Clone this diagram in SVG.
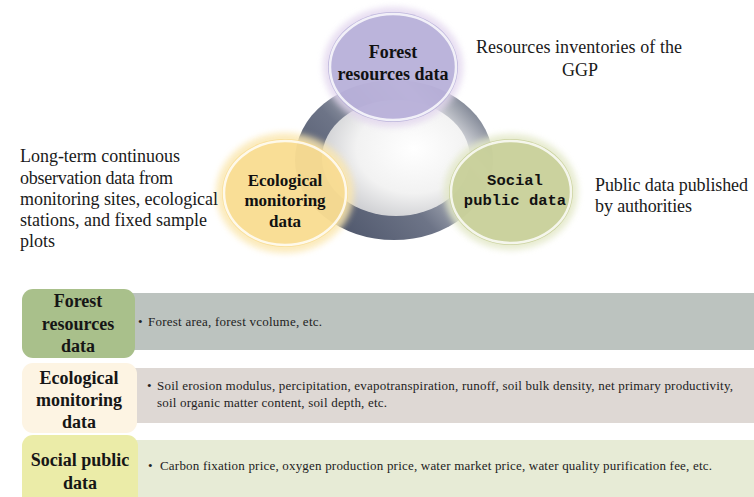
<svg xmlns="http://www.w3.org/2000/svg" width="754" height="497" viewBox="0 0 754 497">
  <style>
    .note { font-family: "Liberation Serif", "Times New Roman", serif; font-size: 18px; fill: #1a1a1a; }
    .hub { font-family: "Liberation Serif", "Times New Roman", serif; font-size: 18px; font-weight: bold; fill: #111; text-anchor: middle; }
    .hub2 { font-family: "Liberation Serif", "Times New Roman", serif; font-size: 17px; font-weight: bold; fill: #111; text-anchor: middle; }
    .hubmono { font-family: "Liberation Mono", "Courier New", monospace; font-size: 15.5px; font-weight: bold; fill: #111; text-anchor: middle; }
    .lbl { font-family: "Liberation Serif", "Times New Roman", serif; font-size: 18px; font-weight: bold; fill: #161616; text-anchor: middle; }
    .item { font-family: "Liberation Serif", "Times New Roman", serif; font-size: 13px; fill: #222; }
    .ringline { fill: none; stroke: #ffffff; stroke-width: 2.5; opacity: 0.8; }
  </style>
  <defs>
    <linearGradient id="ringGrad" x1="0.1" y1="0.8" x2="0.9" y2="0.2">
      <stop offset="0" stop-color="#4f576c"/>
      <stop offset="0.4" stop-color="#6d7487"/>
      <stop offset="0.65" stop-color="#b3b7c0"/>
      <stop offset="0.82" stop-color="#e2e3e6"/>
      <stop offset="1" stop-color="#858b99"/>
    </linearGradient>
    <radialGradient id="coreGrad" cx="0.62" cy="0.42" r="0.7">
      <stop offset="0" stop-color="#ffffff"/>
      <stop offset="0.55" stop-color="#f2f2f2"/>
      <stop offset="1" stop-color="#c4c5c9"/>
    </radialGradient>
    <filter id="soft" x="-20%" y="-20%" width="140%" height="140%">
      <feGaussianBlur stdDeviation="3"/>
    </filter>
  </defs>

  <!-- metallic ring behind the three data sources -->
  <g id="ring">
    <ellipse cx="394" cy="160" rx="99" ry="80" fill="url(#ringGrad)"/>
    <ellipse cx="396" cy="158" rx="74" ry="58" fill="url(#coreGrad)"/>
  </g>

  <g id="node-forest">
    <ellipse cx="393" cy="67" rx="70" ry="60" fill="#e2d6ee" opacity="0.8" filter="url(#soft)"/>
    <ellipse cx="393" cy="67" rx="65" ry="55" fill="#aba4d2" opacity="0.72"/>
    <ellipse cx="393" cy="67" rx="63" ry="53" class="ringline"/>
    <text class="hub" x="393" y="58">Forest</text>
    <text class="hub" x="393" y="80">resources data</text>
  </g>

  <g id="node-ecological">
    <ellipse cx="285" cy="193" rx="69" ry="60" fill="#fbe7b0" opacity="0.85" filter="url(#soft)"/>
    <ellipse cx="285" cy="193" rx="63" ry="54" fill="#f8d98a" opacity="0.75"/>
    <ellipse cx="285" cy="193" rx="61" ry="52" class="ringline"/>
    <text class="hub2" x="285" y="186">Ecological</text>
    <text class="hub2" x="285" y="206">monitoring</text>
    <text class="hub2" x="285" y="227">data</text>
  </g>

  <g id="node-social">
    <ellipse cx="511" cy="192" rx="67" ry="58" fill="#e3e8c8" opacity="0.85" filter="url(#soft)"/>
    <ellipse cx="511" cy="192" rx="62" ry="53" fill="#c3cb90" opacity="0.78"/>
    <ellipse cx="511" cy="192" rx="60" ry="51" class="ringline"/>
    <text class="hubmono" x="515" y="185">Social</text>
    <text class="hubmono" x="515" y="205">public data</text>
  </g>

  <!-- source descriptions -->
  <g id="notes">
    <text class="note" x="476" y="53" textLength="206">Resources inventories of the</text>
    <text class="note" x="580" y="76" text-anchor="middle">GGP</text>
    <text class="note" x="20" y="162" textLength="160">Long-term continuous</text>
    <text class="note" x="20" y="184" textLength="153">observation data from</text>
    <text class="note" x="20" y="205" textLength="198">monitoring sites, ecological</text>
    <text class="note" x="20" y="226" textLength="187">stations, and fixed sample</text>
    <text class="note" x="20" y="247">plots</text>
    <text class="note" x="595" y="191" textLength="153">Public data published</text>
    <text class="note" x="595" y="212" textLength="97">by authorities</text>
  </g>

  <g id="connectors"/>

  <!-- detail table -->
  <g id="row-forest">
    <rect x="130" y="293" width="624" height="57" fill="#bcc3bf"/>
    <rect x="22" y="289" width="113" height="69" rx="11" fill="#a9c08b"/>
    <text class="lbl" x="78" y="307">Forest</text>
    <text class="lbl" x="78" y="330">resources</text>
    <text class="lbl" x="78" y="352">data</text>
    <text class="item" x="138" y="326">•</text>
    <text class="item" x="148" y="326" textLength="174">Forest area, forest vcolume, etc.</text>
  </g>

  <g id="row-ecological">
    <rect x="130" y="368" width="624" height="55" fill="#ded8d4"/>
    <rect x="22" y="363" width="115" height="70" rx="11" fill="#fdf4e3"/>
    <text class="lbl" x="79" y="384">Ecological</text>
    <text class="lbl" x="79" y="406">monitoring</text>
    <text class="lbl" x="79" y="428">data</text>
    <text class="item" x="147" y="390">•</text>
    <text class="item" x="157" y="390" textLength="576">Soil erosion modulus, percipitation, evapotranspiration, runoff, soil bulk density, net primary productivity,</text>
    <text class="item" x="157" y="407" textLength="230">soil organic matter content, soil depth, etc.</text>
  </g>

  <g id="row-social">
    <rect x="130" y="440" width="624" height="57" fill="#e7ebd6"/>
    <rect x="22" y="435" width="116" height="72" rx="11" fill="#ebeca8"/>
    <text class="lbl" x="80" y="466">Social public</text>
    <text class="lbl" x="80" y="489">data</text>
    <text class="item" x="148" y="470">•</text>
    <text class="item" x="160" y="470" textLength="552">Carbon fixation price, oxygen production price, water market price, water quality purification fee, etc.</text>
  </g>
</svg>
